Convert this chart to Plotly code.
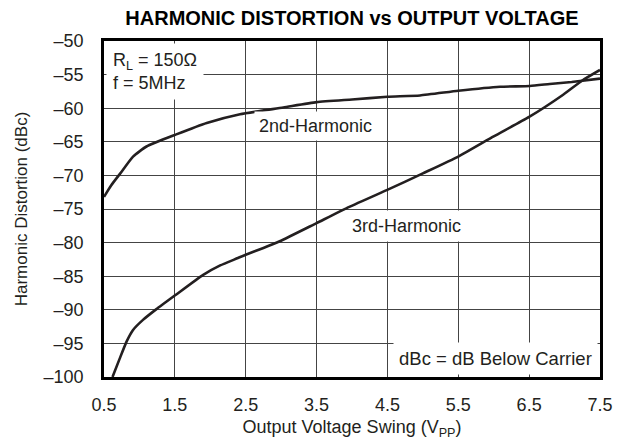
import plotly.graph_objects as go

# Data
x_2nd = [0.5, 0.6, 0.73, 0.91, 1.1, 1.52, 1.95, 2.42, 3.03, 3.5, 4.0, 4.5, 4.96, 5.5, 6.09, 6.51, 6.79, 7.1, 7.5]
y_2nd = [-73.2, -71.5, -69.7, -67.2, -65.7, -63.9, -62.2, -60.9, -59.9, -59.1, -58.7, -58.3, -58.1, -57.4, -56.8, -56.7, -56.4, -56.1, -55.6]

x_3rd = [0.62, 0.72, 0.82, 0.91, 1.05, 1.24, 1.51, 1.9, 2.14, 2.39, 2.5, 2.75, 2.98, 3.5, 3.92, 4.49, 5.0, 5.5, 6.0, 6.5, 6.98, 7.26, 7.5]
y_3rd = [-100.0, -97.3, -94.7, -93.0, -91.5, -89.9, -87.8, -84.8, -83.4, -82.3, -81.8, -80.8, -79.8, -77.1, -74.9, -72.2, -69.7, -67.2, -64.2, -61.3, -58.0, -55.8, -54.3]

x_ticks = [0.5, 1.5, 2.5, 3.5, 4.5, 5.5, 6.5, 7.5]
y_ticks = [-50, -55, -60, -65, -70, -75, -80, -85, -90, -95, -100]

FONT = "Liberation Sans, Arial, sans-serif"
LINE = "#231f20"

fig = go.Figure()
fig.add_trace(go.Scatter(x=x_2nd, y=y_2nd, mode="lines", line=dict(color=LINE, width=2.6, shape="spline", smoothing=0.5),
                         name="2nd-Harmonic", showlegend=False, hoverinfo="skip"))
fig.add_trace(go.Scatter(x=x_3rd, y=y_3rd, mode="lines", line=dict(color=LINE, width=2.6, shape="spline", smoothing=0.5),
                         name="3rd-Harmonic", showlegend=False, hoverinfo="skip"))

fig.update_layout(
    template="none",
    width=623, height=440,
    margin=dict(l=104, r=23, t=41, b=63, autoexpand=False),
    paper_bgcolor="white", plot_bgcolor="white",
    font=dict(family=FONT, size=18, color="#231f20"),
    title=dict(text="<b>HARMONIC DISTORTION vs OUTPUT VOLTAGE</b>", x=0.5, xref="paper", xanchor="center",
               y=1 - 18 / 440, yref="container", yanchor="middle", font=dict(size=20, color="#000")),
    xaxis=dict(range=[0.5, 7.5], tickvals=x_ticks, ticktext=[f"{v:.1f}" for v in x_ticks], automargin=False,
               showgrid=True, gridcolor="#444", gridwidth=1, zeroline=False,
               showline=True, linecolor="black", linewidth=2.6, mirror=True,
               ticks="", ticklabelstandoff=10, tickfont=dict(size=18),
               title=dict(text="Output Voltage Swing (V<sub>PP</sub>)", font=dict(size=18), standoff=8)),
    yaxis=dict(range=[-100, -50], tickvals=y_ticks, ticktext=[f"\u2013{abs(v)}" for v in y_ticks], automargin=False,
               showgrid=True, gridcolor="#444", gridwidth=1, zeroline=False,
               showline=True, linecolor="black", linewidth=2.6, mirror=True,
               ticks="", ticklabelstandoff=14, tickfont=dict(size=18),
               title=dict(text="Harmonic Distortion (dBc)", font=dict(size=17), standoff=12)),
)

fig.add_annotation(x=0.5, y=-50, xref="x", yref="y", xanchor="left", yanchor="top", xshift=2, yshift=-2,
                   text="R<sub>L</sub> = 150\u03a9<br>f = 5MHz", align="left", showarrow=False,
                   bgcolor="white", borderpad=6, font=dict(size=18))
fig.add_annotation(x=3.48, y=-62.65, xref="x", yref="y", text="2nd-Harmonic", showarrow=False,
                   bgcolor="white", borderpad=4, font=dict(size=18))
fig.add_annotation(x=4.77, y=-77.5, xref="x", yref="y", text="3rd-Harmonic", showarrow=False,
                   bgcolor="white", borderpad=5, font=dict(size=18))
fig.add_annotation(x=7.5, y=-100, xref="x", yref="y", xanchor="right", yanchor="bottom", xshift=-2, yshift=2,
                   text="dBc = dB Below Carrier", showarrow=False, bgcolor="white", borderpad=5, font=dict(size=18.5))

fig.write_html("out.html", config={"displayModeBar": False},
               post_script="document.body.style.margin='0';document.body.style.overflow='hidden';")
